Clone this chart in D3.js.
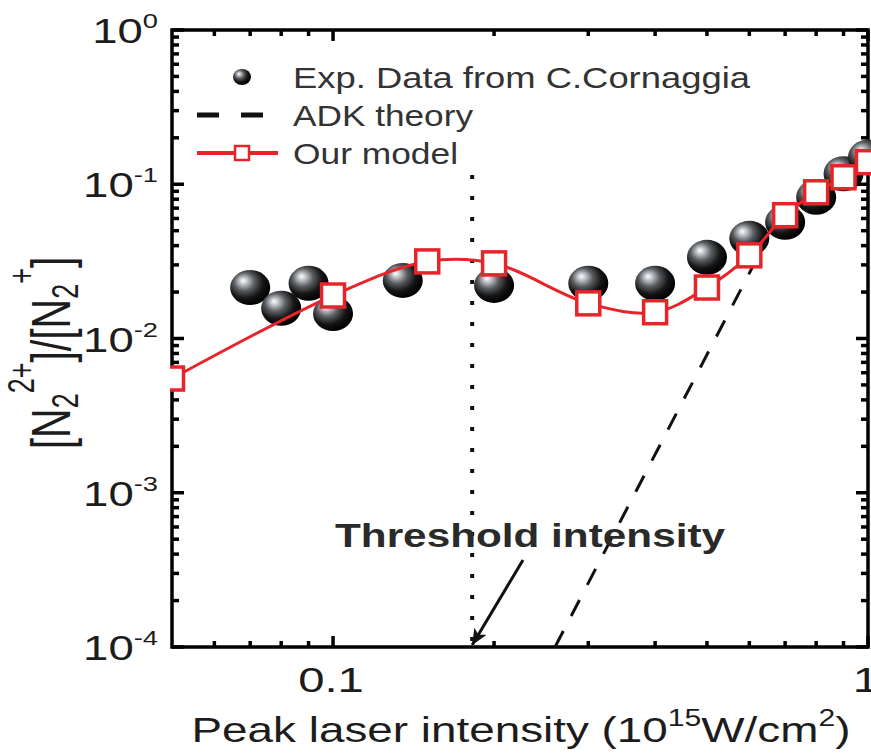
<!DOCTYPE html>
<html>
<head>
<meta charset="utf-8">
<script src="https://cdn.jsdelivr.net/npm/d3@7/dist/d3.min.js"></script>
<style>
  html, body { margin: 0; padding: 0; background: #fff; overflow: hidden; }
  text { font-family: "Liberation Sans", Arial, sans-serif; fill: #1c1c1c; }
</style>
</head>
<body>
<div id="vis"></div>
<script>
// experimental points (C. Cornaggia)
var expX = [0.07, 0.08, 0.09, 0.10, 0.135, 0.20, 0.30, 0.40, 0.50, 0.60, 0.70, 0.80, 0.90, 1.00];
var expY = [0.0214, 0.0157, 0.0228, 0.0145, 0.0238, 0.0221, 0.0228, 0.0228, 0.0336, 0.0446, 0.0567, 0.0824, 0.117, 0.150];

// our model
var modelX = [0.05, 0.10, 0.15, 0.20, 0.30, 0.40, 0.50, 0.60, 0.70, 0.80, 0.90, 1.00];
var modelY = [0.0055, 0.0190, 0.0316, 0.0307, 0.0169, 0.0148, 0.0214, 0.0346, 0.0630, 0.0887, 0.111, 0.139];

// ADK theory (straight in log-log, hidden under markers above ~0.6)
var adkX = [0.260, 0.62];
var adkY = [1e-4, 0.033];

// threshold intensity annotation
var thresholdX = 0.182;
var thresholdY = [0.115, 1e-4];
var arrowFrom = [0.2265, 3.66e-4];

var xMajor = [0.1, 1];
var xMinor = [0.06, 0.07, 0.08, 0.09, 0.2, 0.3, 0.4, 0.5, 0.6, 0.7, 0.8, 0.9];
var yMajor = [1e-4, 1e-3, 1e-2, 1e-1, 1];
var yExp = [-4, -3, -2, -1, 0];
var yMinor = [];
[1e-4, 1e-3, 1e-2, 1e-1].forEach(function (d) {
  for (var k = 2; k <= 9; k++) yMinor.push(d * k);
});

var width = 871, height = 755;
var red = '#e8242b';
var TX = 1.35; // horizontal stretch of the lettering in the original

var x = d3.scaleLog().domain([0.05, 1]).range([172, 868]);
var y = d3.scaleLog().domain([1e-4, 1]).range([647, 30]);

var svg = d3.select('#vis').append('svg')
  .attr('width', width)
  .attr('height', height);

var defs = svg.append('defs');
var grad = defs.append('radialGradient')
  .attr('id', 'ball')
  .attr('cx', '40%').attr('cy', '38%')
  .attr('fx', '32%').attr('fy', '30%')
  .attr('r', '62%');
grad.append('stop').attr('offset', '0%').attr('stop-color', '#ffffff');
grad.append('stop').attr('offset', '14%').attr('stop-color', '#c9cdd2');
grad.append('stop').attr('offset', '42%').attr('stop-color', '#5a5d60');
grad.append('stop').attr('offset', '72%').attr('stop-color', '#151515');
grad.append('stop').attr('offset', '100%').attr('stop-color', '#000');

defs.append('clipPath').attr('id', 'plotclip')
  .append('rect').attr('x', 170).attr('y', 0).attr('width', 720).attr('height', 647);

defs.append('marker')
  .attr('id', 'arrowhead')
  .attr('markerUnits', 'userSpaceOnUse')
  .attr('markerWidth', 18).attr('markerHeight', 14)
  .attr('refX', 16).attr('refY', 7)
  .attr('orient', 'auto')
  .append('path')
  .attr('d', 'M0,0 L16,7 L0,14 L4,7 z')
  .attr('fill', '#111');

// ----- ticks (inward, all four sides)
function tickLines(vals, len, side) {
  svg.append('g').selectAll('line')
    .data(vals)
    .enter().append('line')
    .attr('x1', function (d) { return side === 'b' || side === 't' ? x(d) : (side === 'l' ? 172 : 868); })
    .attr('x2', function (d) { return side === 'b' || side === 't' ? x(d) : (side === 'l' ? 172 + len : 868 - len); })
    .attr('y1', function (d) { return side === 'l' || side === 'r' ? y(d) : (side === 'b' ? 647 : 30); })
    .attr('y2', function (d) { return side === 'l' || side === 'r' ? y(d) : (side === 'b' ? 647 - len : 30 + len); })
    .attr('stroke', '#000')
    .attr('stroke-width', 3.5);
}
tickLines(xMajor, 11, 'b');
tickLines(xMinor, 6, 'b');
tickLines(xMajor, 11, 't');
tickLines(xMinor, 6, 't');
tickLines(yMajor, 12, 'l');
tickLines(yMinor, 7, 'l');
tickLines(yMajor, 12, 'r');
tickLines(yMinor, 7, 'r');

svg.append('rect')
  .attr('x', 172).attr('y', 30)
  .attr('width', 868 - 172).attr('height', 647 - 30)
  .attr('fill', 'none')
  .attr('stroke', '#000')
  .attr('stroke-width', 3.5);

// ----- tick labels
svg.append('g').selectAll('text')
  .data(xMajor)
  .enter().append('text')
  .attr('transform', function (d) { return 'translate(' + (x(d) - 2) + ',692) scale(' + TX + ',1)'; })
  .attr('text-anchor', 'middle')
  .attr('font-size', 35)
  .text(function (d) { return d; });

var yl = svg.append('g').selectAll('text')
  .data(yMajor)
  .enter().append('text')
  .attr('transform', function (d) { return 'translate(158,' + (y(d) + 13) + ') scale(1.3,1)'; })
  .attr('text-anchor', 'end')
  .attr('font-size', 35);
yl.append('tspan').text('10');
yl.append('tspan')
  .attr('font-size', 21)
  .attr('dy', -15)
  .text(function (d, i) { return yExp[i] < 0 ? '-' + Math.abs(yExp[i]) : yExp[i]; });

// ----- axis titles
var xt = svg.append('text')
  .attr('transform', 'translate(521,742) scale(1.31,1)')
  .attr('text-anchor', 'middle')
  .attr('font-size', 35);
xt.append('tspan').text('Peak laser intensity (10');
xt.append('tspan').attr('font-size', 23).attr('dy', -16).text('15');
xt.append('tspan').attr('dy', 16).text('W/cm');
xt.append('tspan').attr('font-size', 23).attr('dy', -16).text('2');
xt.append('tspan').attr('dy', 16).text(')');

var yt = svg.append('text')
  .attr('transform', 'translate(70,353) rotate(-90) scale(1,1.35)')
  .attr('text-anchor', 'middle')
  .attr('font-size', 41);
yt.append('tspan').text('[N');
yt.append('tspan').attr('font-size', 27).attr('dy', 6).text('2');
yt.append('tspan').attr('font-size', 27).attr('dy', -33).text('2+');
yt.append('tspan').attr('dy', 27).text(']/[N');
yt.append('tspan').attr('font-size', 27).attr('dy', 6).text('2');
yt.append('tspan').attr('font-size', 27).attr('dy', -33).text('+');
yt.append('tspan').attr('dy', 27).text(']');

// ----- ADK theory
var line = d3.line()
  .x(function (d) { return x(d[0]); })
  .y(function (d) { return y(d[1]); });

svg.append('path')
  .datum(d3.zip(adkX, adkY))
  .attr('d', line)
  .attr('fill', 'none')
  .attr('stroke', '#111')
  .attr('stroke-width', 3)
  .attr('stroke-dasharray', '18,17');

// ----- threshold dotted line
svg.append('line')
  .attr('x1', x(thresholdX)).attr('x2', x(thresholdX))
  .attr('y1', y(thresholdY[0])).attr('y2', y(thresholdY[1]))
  .attr('stroke', '#111')
  .attr('stroke-width', 4)
  .attr('stroke-dasharray', '4,17');

var plot = svg.append('g').attr('clip-path', 'url(#plotclip)');

// ----- experimental spheres
plot.selectAll('.ball')
  .data(d3.zip(expX, expY))
  .enter().append('ellipse')
  .attr('class', 'ball')
  .attr('cx', function (d) { return x(d[0]); })
  .attr('cy', function (d) { return y(d[1]); })
  .attr('rx', 20)
  .attr('ry', 17.5)
  .attr('fill', 'url(#ball)');

// ----- model curve + squares
var modelData = d3.zip(modelX, modelY);
plot.append('path')
  .datum(modelData)
  .attr('d', line.curve(d3.curveCatmullRom.alpha(0.5)))
  .attr('fill', 'none')
  .attr('stroke', red)
  .attr('stroke-width', 3);

plot.selectAll('.sq')
  .data(modelData)
  .enter().append('rect')
  .attr('class', 'sq')
  .attr('x', function (d) { return x(d[0]) - 11.5; })
  .attr('y', function (d) { return y(d[1]) - 11.5; })
  .attr('width', 23)
  .attr('height', 23)
  .attr('fill', '#fff')
  .attr('stroke', red)
  .attr('stroke-width', 3.5);

// ----- annotation
svg.append('line')
  .attr('x1', x(arrowFrom[0])).attr('y1', y(arrowFrom[1]))
  .attr('x2', x(thresholdX)).attr('y2', y(thresholdY[1]) - 2)
  .attr('stroke', '#111')
  .attr('stroke-width', 3)
  .attr('marker-end', 'url(#arrowhead)');

svg.append('text')
  .attr('x', 335).attr('y', 547)
  .attr('font-size', 33)
  .attr('font-weight', 'bold')
  .attr('textLength', 390)
  .attr('lengthAdjust', 'spacingAndGlyphs')
  .style('fill', '#2a2a2a')
  .text('Threshold intensity');

// ----- legend
var legend = svg.append('g');
legend.append('ellipse')
  .attr('cx', 242).attr('cy', 77)
  .attr('rx', 9).attr('ry', 8)
  .attr('fill', 'url(#ball)');
legend.append('line')
  .attr('x1', 197).attr('x2', 263)
  .attr('y1', 115).attr('y2', 115)
  .attr('stroke', '#111').attr('stroke-width', 5)
  .attr('stroke-dasharray', '22,22');
legend.append('line')
  .attr('x1', 197).attr('x2', 278)
  .attr('y1', 153).attr('y2', 153)
  .attr('stroke', red).attr('stroke-width', 4);
legend.append('rect')
  .attr('x', 235).attr('y', 146)
  .attr('width', 14).attr('height', 14)
  .attr('fill', '#fff').attr('stroke', red).attr('stroke-width', 2.5);

var legendText = ['Exp. Data from C.Cornaggia', 'ADK theory', 'Our model'];
var legendLen = [457, 180, 165];
legend.selectAll('text')
  .data(legendText)
  .enter().append('text')
  .attr('x', 293)
  .attr('y', function (d, i) { return 88 + i * 38; })
  .attr('font-size', 29)
  .attr('textLength', function (d, i) { return legendLen[i]; })
  .attr('lengthAdjust', 'spacingAndGlyphs')
  .style('fill', '#333')
  .text(function (d) { return d; });
</script>
</body>
</html>
